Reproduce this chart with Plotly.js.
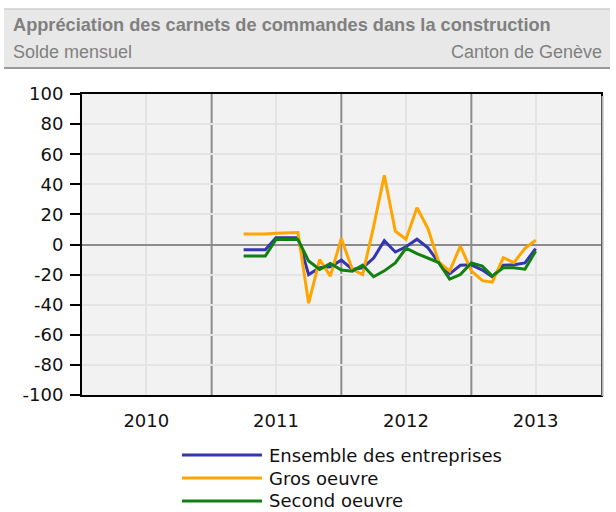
<!DOCTYPE html>
<html>
<head>
<meta charset="utf-8">
<script src="https://cdn.plot.ly/plotly-3.0.1.min.js"></script>
<style>
  html, body { margin: 0; padding: 0; background: #ffffff; }
  #chart { width: 616px; height: 512px; }
</style>
</head>
<body>
<div id="chart"></div>
<script>
// ---- Data ----
const months = [
  '2011-04','2011-05','2011-06','2011-07','2011-08','2011-09','2011-10','2011-11','2011-12',
  '2012-01','2012-02','2012-03','2012-04','2012-05','2012-06','2012-07','2012-08','2012-09',
  '2012-10','2012-11','2012-12',
  '2013-01','2013-02','2013-03','2013-04','2013-05','2013-06','2013-07'
];
const ensemble = [-3.5,-3.5,-3.5,4.5,4.5,4.5,-20,-15.5,-14.8,-10.4,-16.6,-15.5,-9,2.5,-5,-1.5,3.5,-2.2,-12,-19.5,-13.8,-13.5,-17,-21.5,-13.7,-13.5,-12.2,-2.7];
const grosOeuvre = [7,7,7,7.5,8,8,-39,-10,-21,4,-16.6,-20,12,46,8.8,3.5,24.5,10.5,-11.5,-17.7,-1,-17.5,-24,-25,-8.8,-12,-2.5,2.8];
const secondOeuvre = [-7.7,-7.7,-7.7,3.3,3.3,3.3,-11,-16.6,-12.6,-17,-17.7,-13.7,-21.4,-17.5,-12.2,-2.5,-6,-8.8,-12,-23,-20,-12.2,-14.4,-21,-15.5,-15.5,-16.4,-4.4];
const seriesNames = ['Ensemble des entreprises', 'Gros oeuvre', 'Second oeuvre'];
const seriesColors = ['#3535b0', '#ffa500', '#108010'];
const yearLabels = ['2010', '2011', '2012', '2013'];
const yearMid = ['2010-07-01', '2011-07-01', '2012-07-01', '2013-07-01'];
const yearStarts = ['2011-01-01', '2012-01-01', '2013-01-01'];
const yTicks = [100, 80, 60, 40, 20, 0, -20, -40, -60, -80, -100];
const yTickLabels = ['100', '80', '60', '40', '20', '0', '-20', '-40', '-60', '-80', '-100'];

const titleText = 'Appréciation des carnets de commandes dans la construction';
const subLeft = 'Solde mensuel';
const subRight = 'Canton de Genève';

// ---- Layout geometry (pixels) ----
const W = 616, H = 512;
const L = 82, R = 601, T = 94, B = 395;
const pw = R - L, ph = B - T;
const px = x => (x - L) / pw;
const py = y => (B - y) / ph;

const allSeries = [ensemble, grosOeuvre, secondOeuvre];
const traces = allSeries.map((vals, i) => ({
  x: months, y: vals, type: 'scatter', mode: 'lines',
  name: seriesNames[i],
  line: { color: seriesColors[i], width: 3 },
  showlegend: false, hoverinfo: 'x+y'
}));

const shapes = [];
const annotations = [];

// year boundary lines
yearStarts.forEach(d => shapes.push({
  type: 'line', xref: 'x', yref: 'paper', x0: d, x1: d, y0: 0, y1: 1,
  line: { color: '#8c8c8c', width: 2 }, layer: 'below'
}));
// frame shadow
shapes.push({ type: 'line', xref: 'paper', yref: 'paper', x0: px(602.5), x1: px(602.5), y0: py(396), y1: py(96),
  line: { color: '#b0b0b0', width: 2 } });

// header box
shapes.push({ type: 'rect', xref: 'paper', yref: 'paper', x0: px(4), x1: px(610), y0: py(68), y1: py(9),
  fillcolor: '#e8e8e8', line: { width: 0 }, layer: 'below' });
shapes.push({ type: 'line', xref: 'paper', yref: 'paper', x0: px(4), x1: px(610), y0: py(9), y1: py(9),
  line: { color: '#cfcfcf', width: 1.5 } });
shapes.push({ type: 'line', xref: 'paper', yref: 'paper', x0: px(4), x1: px(610), y0: py(68), y1: py(68),
  line: { color: '#9a9a9a', width: 2 } });

annotations.push({ xref: 'paper', yref: 'paper', x: px(11), y: py(25), xanchor: 'left', yanchor: 'middle',
  text: '<b>' + titleText + '</b>', showarrow: false,
  font: { family: 'Liberation Sans, Arial, sans-serif', size: 18.2, color: '#808080' } });
annotations.push({ xref: 'paper', yref: 'paper', x: px(11), y: py(52), xanchor: 'left', yanchor: 'middle',
  text: subLeft, showarrow: false,
  font: { family: 'Liberation Sans, Arial, sans-serif', size: 18, color: '#808080' } });
annotations.push({ xref: 'paper', yref: 'paper', x: px(604), y: py(52), xanchor: 'right', yanchor: 'middle',
  text: subRight, showarrow: false,
  font: { family: 'Liberation Sans, Arial, sans-serif', size: 18, color: '#808080' } });

// manual legend
const legY = [455, 478, 501];
seriesNames.forEach((n, i) => {
  shapes.push({ type: 'line', xref: 'paper', yref: 'paper', x0: px(182), x1: px(262), y0: py(legY[i]), y1: py(legY[i]),
    line: { color: seriesColors[i], width: 3 } });
  annotations.push({ xref: 'paper', yref: 'paper', x: px(267), y: py(legY[i]), xanchor: 'left', yanchor: 'middle',
    text: n, showarrow: false, font: { family: 'DejaVu Sans', size: 18, color: '#111111' } });
});

const layout = {
  width: W, height: H,
  margin: { l: L, r: W - R, t: T, b: H - B, pad: 0 },
  paper_bgcolor: '#ffffff', plot_bgcolor: '#f2f2f2',
  font: { family: 'DejaVu Sans', size: 18, color: '#111111' },
  showlegend: false,
  xaxis: {
    type: 'date', range: ['2010-01-01', '2014-01-01'],
    tickmode: 'array', tickvals: yearMid, ticktext: yearLabels,
    showgrid: true, gridcolor: '#e4e4e4', gridwidth: 2,
    ticks: '', showline: true, mirror: true, linecolor: '#000000', linewidth: 2,
    zeroline: false, ticklabelstandoff: 8, fixedrange: true
  },
  yaxis: {
    range: [-100, 100], tickmode: 'array', tickvals: yTicks, ticktext: yTickLabels,
    showgrid: true, gridcolor: '#e4e4e4', gridwidth: 2,
    zeroline: true, zerolinecolor: '#8c8c8c', zerolinewidth: 2,
    ticks: 'outside', ticklen: 10, tickwidth: 2, tickcolor: '#000000',
    showline: true, mirror: true, linecolor: '#000000', linewidth: 2,
    ticklabelstandoff: 3, fixedrange: true
  },
  shapes: shapes,
  annotations: annotations
};

Plotly.newPlot('chart', traces, layout, { displayModeBar: false, staticPlot: true });
</script>
</body>
</html>
